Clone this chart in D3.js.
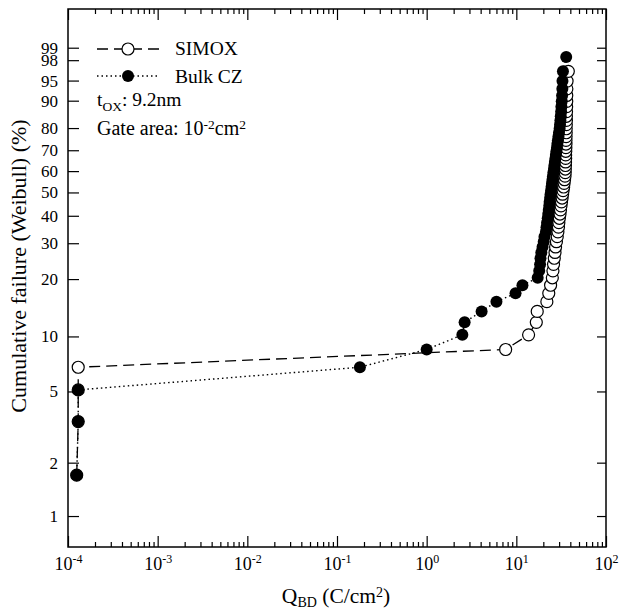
<!DOCTYPE html>
<html><head><meta charset="utf-8">
<script src="https://cdn.jsdelivr.net/npm/d3@7"></script>
<style>
body{margin:0;background:#fff}
svg{display:block}
text{font-family:"Liberation Serif","Times New Roman",serif;fill:#000}
</style>
</head><body>
<svg id="c" width="622" height="609"></svg>
<script>
// ---- data ----
const xTickValues = [1e-4, 1e-3, 1e-2, 1e-1, 1, 10, 100];
const xTickExponents = ["-4", "-3", "-2", "-1", "0", "1", "2"];
const yTickPct = [1, 2, 5, 10, 20, 30, 40, 50, 60, 70, 80, 90, 95, 98, 99];
const yRangePct = [0.668, 99.952];

const simoxQ = [1.25e-4, 1.3e-4, 1.3e-4, 1.3e-4, 7.6, 13.7, 16.7, 17.1, 21.9, 23.0, 24.1, 25.2,
  25.6, 26.0, 26.5, 27.0, 27.4, 28.0, 28.6, 29.1, 29.5, 29.8,
  30.2, 30.7, 31.1, 31.5, 31.9, 32.4, 32.8, 33.2, 33.7, 34.1,
  34.5, 34.9, 35.1, 35.2, 35.3, 35.4, 35.5, 35.5, 35.6, 35.7,
  35.8, 35.8, 35.9, 36.0, 36.0, 36.1, 36.2, 36.2, 36.3, 36.4,
  36.5, 36.5, 36.6, 36.8, 38.0];
const simoxPct = [1.7, 3.4, 5.1, 6.8, 8.5, 10.2, 11.9, 13.6, 15.3, 16.9, 18.6, 20.3,
  22.0, 23.7, 25.4, 27.1, 28.8, 30.5, 32.2, 33.9, 35.6, 37.3,
  39.0, 40.7, 42.4, 44.1, 45.8, 47.5, 49.2, 50.8, 52.5, 54.2,
  55.9, 57.6, 59.3, 61.0, 62.7, 64.4, 66.1, 67.8, 69.5, 71.2,
  72.9, 74.6, 76.3, 78.0, 79.7, 81.4, 83.1, 84.7, 86.4, 88.1,
  89.8, 91.5, 93.2, 94.9, 96.6];

const bulkQ = [1.25e-4, 1.3e-4, 1.3e-4, 0.18, 1.0, 2.5, 2.65, 4.1, 6.0, 9.8, 11.7, 17.3,
  18.0, 18.4, 18.6, 19.0, 19.6, 20.2, 20.6, 21.4, 21.7, 22.0,
  22.4, 22.7, 23.0, 23.3, 23.5, 23.8, 24.1, 24.4, 24.7, 25.0,
  25.3, 25.6, 25.9, 26.3, 26.6, 26.9, 27.3, 27.6, 28.0, 28.4,
  28.7, 29.1, 29.5, 29.9, 30.4, 30.7, 31.0, 31.3, 31.6, 31.8,
  32.1, 32.4, 32.6, 32.7, 33.1, 36.0];
const bulkPct = [1.7, 3.4, 5.1, 6.8, 8.5, 10.2, 11.9, 13.6, 15.3, 16.9, 18.6, 20.3,
  22.0, 23.7, 25.4, 27.1, 28.8, 30.5, 32.2, 33.9, 35.6, 37.3,
  39.0, 40.7, 42.4, 44.1, 45.8, 47.5, 49.2, 50.8, 52.5, 54.2,
  55.9, 57.6, 59.3, 61.0, 62.7, 64.4, 66.1, 67.8, 69.5, 71.2,
  72.9, 74.6, 76.3, 78.0, 79.7, 81.4, 83.1, 84.7, 86.4, 88.1,
  89.8, 91.5, 93.2, 94.9, 96.6, 98.3];

// ---- layout ----
const L = 68, R = 606, T = 9, B = 547;
const svg = d3.select("#c");
const weib = p => Math.log(-Math.log(1 - p / 100));
const x = d3.scaleLog().domain([xTickValues[0], xTickValues[xTickValues.length - 1]]).range([L, R]);
const yW = d3.scaleLinear().domain(yRangePct.map(weib)).range([B, T]);
const y = p => yW(weib(p));

const minorX = [];
for (let e = -4; e < 2; e++) for (let m = 2; m <= 9; m++) minorX.push(m * Math.pow(10, e));

function clean(g) { g.select(".domain").remove(); g.selectAll("line").attr("stroke", "#000").attr("stroke-width", 1.2); }

// bottom axis
const gB = svg.append("g").attr("transform", `translate(0,${B})`)
  .call(d3.axisBottom(x).tickValues(xTickValues).tickSize(-11).tickPadding(10).tickFormat(""));
clean(gB);
gB.selectAll(".tick text").each(function(d, i) {
  const t = d3.select(this).attr("font-size", 18).attr("font-family", "Liberation Serif");
  t.append("tspan").text("10");
  t.append("tspan").attr("font-size", 12).attr("dy", "-0.55em").text(xTickExponents[i]);
});
const gBm = svg.append("g").attr("transform", `translate(0,${B})`)
  .call(d3.axisBottom(x).tickValues(minorX).tickSize(-5).tickFormat(""));
clean(gBm);
// top axis
const gT = svg.append("g").attr("transform", `translate(0,${T})`)
  .call(d3.axisTop(x).tickValues(xTickValues).tickSize(-11).tickFormat(""));
clean(gT);
const gTm = svg.append("g").attr("transform", `translate(0,${T})`)
  .call(d3.axisTop(x).tickValues(minorX).tickSize(-5).tickFormat(""));
clean(gTm);
// left axis
const gL = svg.append("g").attr("transform", `translate(${L},0)`)
  .call(d3.axisLeft(yW).tickValues(yTickPct.map(weib)).tickSize(-11).tickPadding(10)
    .tickFormat((d, i) => yTickPct[i]));
clean(gL);
gL.selectAll(".tick text").attr("font-size", 17).attr("font-family", "Liberation Serif");
// right axis
const gR = svg.append("g").attr("transform", `translate(${R},0)`)
  .call(d3.axisRight(yW).tickValues(yTickPct.map(weib)).tickSize(-9).tickFormat(""));
clean(gR);

// frame
svg.append("rect").attr("x", L).attr("y", T).attr("width", R - L).attr("height", B - T)
  .attr("fill", "none").attr("stroke", "#000").attr("stroke-width", 1.5);

// series
const simox = simoxQ.map((q, i) => ({ q, p: simoxPct[i] }));
const bulk = bulkQ.map((q, i) => ({ q, p: bulkPct[i] }));
const line = d3.line().x(d => x(d.q)).y(d => y(d.p));

svg.append("path").datum(simox).attr("d", line).attr("fill", "none")
  .attr("stroke", "#000").attr("stroke-width", 1.3).attr("stroke-dasharray", "11,6");
svg.append("g").selectAll("circle").data(simox).join("circle")
  .attr("cx", d => x(d.q)).attr("cy", d => y(d.p)).attr("r", 6)
  .attr("fill", "#fff").attr("stroke", "#000").attr("stroke-width", 1.2);

svg.append("path").datum(bulk).attr("d", line).attr("fill", "none")
  .attr("stroke", "#000").attr("stroke-width", 1.4).attr("stroke-dasharray", "1.5,3");
svg.append("g").selectAll("circle").data(bulk).join("circle")
  .attr("cx", d => x(d.q)).attr("cy", d => y(d.p)).attr("r", 6).attr("fill", "#000");

// legend
const lg = svg.append("g");
lg.append("line").attr("x1", 97).attr("x2", 160).attr("y1", 49).attr("y2", 49)
  .attr("stroke", "#000").attr("stroke-width", 1.3).attr("stroke-dasharray", "11,6");
lg.append("circle").attr("cx", 128).attr("cy", 49).attr("r", 6).attr("fill", "#fff").attr("stroke", "#000").attr("stroke-width", 1.2);
lg.append("text").attr("x", 175).attr("y", 55).attr("font-size", 19.5).text("SIMOX");
lg.append("line").attr("x1", 97).attr("x2", 160).attr("y1", 76).attr("y2", 76)
  .attr("stroke", "#000").attr("stroke-width", 1.4).attr("stroke-dasharray", "1.5,3");
lg.append("circle").attr("cx", 128).attr("cy", 76).attr("r", 6).attr("fill", "#000");
lg.append("text").attr("x", 175).attr("y", 83).attr("font-size", 19.5).text("Bulk CZ");

const t1 = lg.append("text").attr("x", 97).attr("y", 106).attr("font-size", 19.5);
t1.append("tspan").text("t");
t1.append("tspan").attr("font-size", 13.5).attr("dy", "0.35em").text("OX");
t1.append("tspan").attr("dy", "-0.24em").text(": 9.2nm");
const t2 = lg.append("text").attr("x", 97).attr("y", 135).attr("font-size", 20);
t2.append("tspan").text("Gate area: 10");
t2.append("tspan").attr("font-size", 13.5).attr("dy", "-0.45em").text("-2");
t2.append("tspan").attr("dy", "0.31em").text("cm");
t2.append("tspan").attr("font-size", 13.5).attr("dy", "-0.45em").text("2");

// axis titles
svg.append("text").attr("transform", "translate(26,266) rotate(-90)")
  .attr("text-anchor", "middle").attr("font-size", 22).text("Cumulative failure (Weibull) (%)");
const xt = svg.append("text").attr("x", 336).attr("y", 603).attr("text-anchor", "middle").attr("font-size", 21.5);
xt.append("tspan").text("Q");
xt.append("tspan").attr("font-size", 14).attr("dy", "0.3em").text("BD");
xt.append("tspan").attr("dy", "-0.2em").text(" (C/cm");
xt.append("tspan").attr("font-size", 14).attr("dy", "-0.45em").text("2");
xt.append("tspan").attr("dy", "0.31em").text(")");
</script>
</body></html>
